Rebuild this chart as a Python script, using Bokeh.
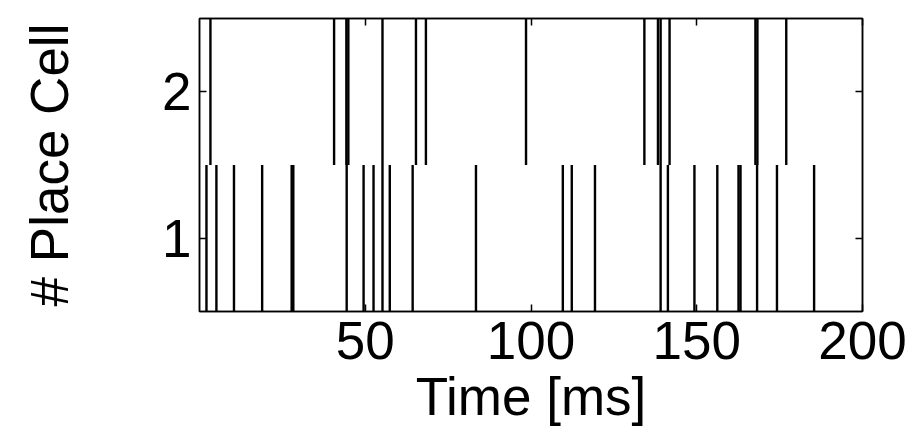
from bokeh.plotting import figure
from bokeh.models import Range1d, LinearAxis, FixedTicker, ColumnDataSource
from bokeh.embed import file_html
from bokeh.resources import INLINE

# Spike times [ms] for each place cell
cell1_times = [2.1, 5.1, 10.4, 18.9, 27.8, 28.3, 44.4, 49.5, 52.5, 55.2, 57.4,
               64.3, 83.4, 109.6, 112.3, 119.3, 139.1, 141.3, 149.3, 156.2,
               162.6, 163.2, 168.2, 174.2, 185.4]
cell2_times = [3.3, 40.6, 44.3, 44.9, 55.2, 65.3, 68.3, 98.5, 134.2, 138.3,
               139.1, 141.8, 167.7, 168.3, 177.0]
cell_ids = [1, 2]
x_ticks = [50, 100, 150, 200]
y_ticks = [1, 2]

xs, y0, y1 = [], [], []
for cid, times in zip(cell_ids, [cell1_times, cell2_times]):
    for t in times:
        xs.append(t)
        y0.append(cid - 0.5)
        y1.append(cid + 0.5)
src = ColumnDataSource(dict(x=xs, y0=y0, y1=y1))

p = figure(width=917, height=428, output_backend="svg", toolbar_location=None,
           x_range=Range1d(0, 200), y_range=Range1d(0.5, 2.5),
           min_border_left=199, min_border_right=55,
           min_border_top=18, min_border_bottom=116)
p.segment(x0="x", y0="y0", x1="x", y1="y1", source=src,
          line_color="black", line_width=2.4)

p.xgrid.visible = False
p.ygrid.visible = False
p.outline_line_color = "black"
p.outline_line_width = 1.5
p.background_fill_color = "white"
p.border_fill_color = "white"

FONT = "Liberation Sans"

def style(ax, labels=True):
    ax.major_tick_in = 7
    ax.major_tick_out = 0
    ax.minor_tick_in = 0
    ax.minor_tick_out = 0
    ax.axis_line_color = "black"
    ax.axis_line_width = 1.5
    ax.major_tick_line_width = 1.5
    ax.major_label_text_font = FONT
    ax.major_label_text_font_size = "53px"
    ax.major_label_text_color = "black"
    ax.axis_label_text_font = FONT
    ax.axis_label_text_font_size = "53px"
    ax.axis_label_text_font_style = "normal"
    ax.axis_label_text_color = "black"
    if not labels:
        ax.major_label_text_font_size = "1px"
        ax.major_label_text_color = None
        ax.major_label_standoff = 0

xa = p.xaxis[0]
xa.ticker = FixedTicker(ticks=x_ticks)
style(xa)
xa.axis_label = "Time [ms]"
xa.major_label_standoff = 10
xa.axis_label_standoff = 5

ya = p.yaxis[0]
ya.ticker = FixedTicker(ticks=y_ticks)
style(ya)
ya.axis_label = "# Place Cell"
ya.major_label_standoff = 8
ya.axis_label_standoff = 80

top = LinearAxis(ticker=FixedTicker(ticks=x_ticks))
style(top, labels=False)
p.add_layout(top, "above")
right = LinearAxis(ticker=FixedTicker(ticks=y_ticks))
style(right, labels=False)
p.add_layout(right, "right")

open("out.html", "w").write(file_html(p, INLINE))
